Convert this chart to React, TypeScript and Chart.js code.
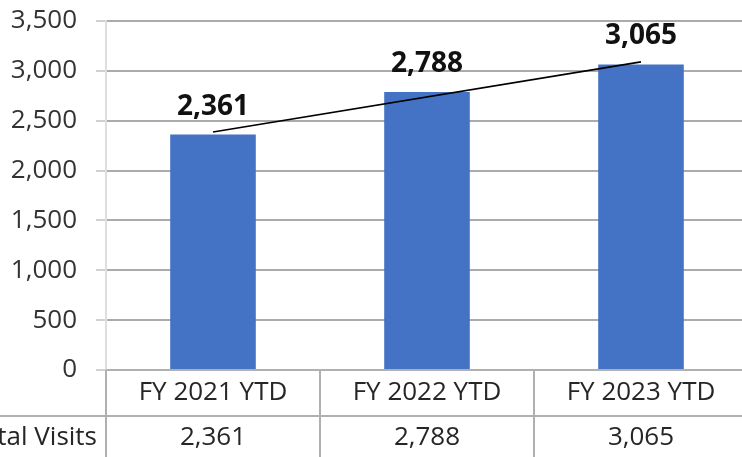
import React, { useEffect, useRef } from "react";
import { Chart, registerables } from "chart.js";

Chart.register(...registerables);

const categories = ["FY 2021 YTD", "FY 2022 YTD", "FY 2023 YTD"];
const seriesName = "Total Visits";
const totalVisits = [2361, 2788, 3065];
// linear trendline end points (middle gap is spanned)
const trendline: (number | null)[] = [2386, null, 3090];
const yMin = 0;
const yMax = 3500;
const yStep = 500;

const FONT = "'Open Sans', 'Noto Sans', sans-serif";
const CANVAS_W = 800;
const CANVAS_H = 457;
const SHIFT_X = 40;

const fmt = (v: number) => v.toLocaleString("en-US");

const labelsPlugin = {
  id: "barLabels",
  afterDatasetsDraw(chart: any) {
    const ctx = chart.ctx;
    const meta = chart.getDatasetMeta(1);
    ctx.save();
    ctx.font = `bold 28px ${FONT}`;
    ctx.fillStyle = "#111111";
    ctx.textAlign = "center";
    ctx.textBaseline = "alphabetic";
    meta.data.forEach((el: any, i: number) => {
      ctx.fillText(fmt(totalVisits[i]), el.x, el.y - 20);
    });
    ctx.restore();
  },
};

const tablePlugin = {
  id: "dataTable",
  afterDraw(chart: any) {
    const ctx = chart.ctx;
    const area = chart.chartArea;
    const xs = chart.scales.x;
    const w = chart.width;
    const h = chart.height;
    const half = (xs.getPixelForValue(1) - xs.getPixelForValue(0)) / 2;
    const top = area.bottom;
    const rowSplit = top + 46;
    ctx.save();
    ctx.strokeStyle = "#b0b0b0";
    ctx.lineWidth = 2;
    ctx.beginPath();
    ctx.moveTo(area.left, top);
    ctx.lineTo(w, top);
    ctx.moveTo(0, rowSplit);
    ctx.lineTo(w, rowSplit);
    for (let i = 0; i <= categories.length; i++) {
      const x = xs.getPixelForValue(0) - half + i * 2 * half;
      ctx.moveTo(x, top);
      ctx.lineTo(x, h);
    }
    ctx.stroke();

    ctx.fillStyle = "#262626";
    ctx.font = `26px ${FONT}`;
    ctx.textBaseline = "middle";
    ctx.textAlign = "center";
    categories.forEach((c, i) => {
      const cx = xs.getPixelForValue(i);
      ctx.fillText(c, cx, top + 23);
      ctx.fillText(fmt(totalVisits[i]), cx, rowSplit + 22);
    });
    ctx.textAlign = "right";
    ctx.fillText(seriesName, area.left - 9, rowSplit + 22);
    ctx.restore();
  },
};

export default function App() {
  const ref = useRef<HTMLCanvasElement | null>(null);

  useEffect(() => {
    if (!ref.current) return;
    const chart = new Chart(ref.current, {
      type: "bar",
      data: {
        labels: categories,
        datasets: [
          {
            type: "line",
            label: "Trend",
            data: trendline,
            borderColor: "#000000",
            borderWidth: 1.6,
            pointRadius: 0,
            fill: false,
            spanGaps: true,
          } as any,
          {
            type: "bar",
            label: seriesName,
            data: totalVisits,
            backgroundColor: "#4472C4",
            categoryPercentage: 1,
            barPercentage: 0.4,
          },
        ],
      },
      options: {
        responsive: false,
        animation: false,
        layout: { padding: { top: 21, right: 12, left: 0, bottom: 0 } },
        plugins: {
          legend: { display: false },
          tooltip: { enabled: false },
        },
        scales: {
          x: {
            display: true,
            grid: { display: false },
            border: { display: false },
            ticks: { display: false },
            afterFit: (s: any) => {
              s.height = 87;
              s.paddingLeft = 0;
              s.paddingRight = 0;
            },
          },
          y: {
            min: yMin,
            max: yMax,
            ticks: {
              stepSize: yStep,
              padding: 19,
              color: "#333333",
              font: { family: FONT, size: 26 },
              callback: (v: any) => fmt(Number(v)),
            },
            grid: {
              color: "#ababab",
              lineWidth: 2,
              drawTicks: true,
              tickLength: 10,
              tickColor: "#d0d0d0",
            },
            border: { display: true, color: "#dedede", width: 2 },
            afterFit: (s: any) => {
              s.width = SHIFT_X + 106;
              s.paddingTop = 0;
              s.paddingBottom = 0;
            },
          },
        },
      },
      plugins: [labelsPlugin, tablePlugin],
    });
    return () => chart.destroy();
  }, []);

  return (
    <div
      style={{
        position: "fixed",
        left: 0,
        top: 0,
        width: 742,
        height: 457,
        overflow: "hidden",
        background: "#ffffff",
      }}
    >
      <div style={{ position: "absolute", left: -SHIFT_X, top: 0, width: CANVAS_W, height: CANVAS_H }}>
        <canvas ref={ref} width={CANVAS_W} height={CANVAS_H} style={{ width: CANVAS_W, height: CANVAS_H }} />
      </div>
    </div>
  );
}
